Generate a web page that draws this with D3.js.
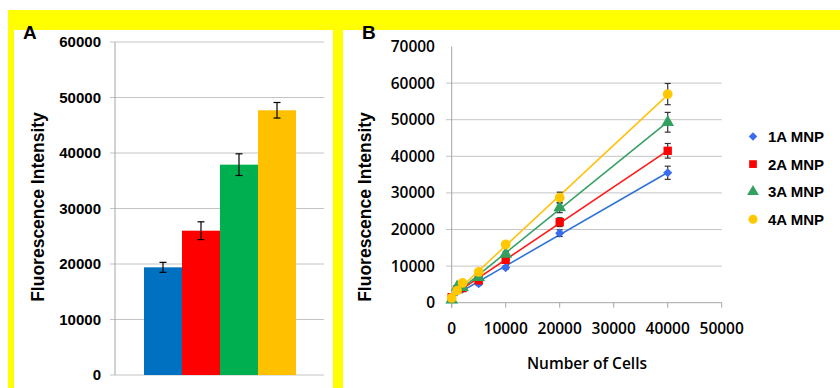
<!DOCTYPE html>
<html>
<head>
<meta charset="utf-8">
<script src="https://cdn.jsdelivr.net/npm/d3@7"></script>
<style>
  body { margin: 0; background: #fff; }
  svg { display: block; }
</style>
</head>
<body>
<svg id="chart"></svg>
<script>
// Panel A: bars
const barNames = ["1A MNP", "2A MNP", "3A MNP", "4A MNP"];
const barValues = [19400, 26000, 37900, 47700];
const barErrors = [900, 1600, 1950, 1400];
const barColors = ["#0070C0", "#FF0000", "#00B050", "#FFC000"];
const barTicks = [0, 10000, 20000, 30000, 40000, 50000, 60000];

// Panel B: cells vs intensity
const cellCounts = [0, 1000, 2000, 5000, 10000, 20000, 40000];
const mnp1A = [1200, 3000, 3700, 5200, 9600, 19000, 35500];
const mnp2A = [1500, 3600, 4000, 6100, 11700, 22000, 41500];
const mnp3A = [800, 4300, 4200, 6900, 13300, 26000, 49300];
const mnp4A = [1300, 3300, 5400, 8400, 15900, 28700, 57000];
const err1A = [200, 300, 300, 500, 500, 900, 1800];
const err2A = [200, 300, 300, 500, 600, 1200, 2000];
const err3A = [200, 300, 300, 500, 700, 1400, 2700];
const err4A = [200, 300, 300, 500, 800, 1500, 2900];
const xTicksB = [0, 10000, 20000, 30000, 40000, 50000];
const yTicksB = [0, 10000, 20000, 30000, 40000, 50000, 60000, 70000];

const width = 840;
const height = 388;

const svg = d3.select("#chart")
    .attr("width", width)
    .attr("height", height)
    .attr("viewBox", [0, 0, width, height]);

svg.append("rect").attr("width", width).attr("height", height).attr("fill", "#fff");

// yellow frame
const yellow = "#FFFF00";
svg.append("rect").attr("x", 8).attr("y", 10).attr("width", width - 8).attr("height", 20).attr("fill", yellow);
svg.append("rect").attr("x", 8).attr("y", 10).attr("width", 6).attr("height", height - 10).attr("fill", yellow);
svg.append("rect").attr("x", 333).attr("y", 10).attr("width", 10).attr("height", height - 10).attr("fill", yellow);

const gridColor = "#c4c4c4";
const axisColor = "#a6a6a6";

// ---------- Panel A ----------
const yA = d3.scaleLinear().domain([0, 60000]).range([375, 42]);
const xA = d3.scaleBand().domain(barNames).range([144, 296]).padding(0);

const gA = svg.append("g");

gA.selectAll(".gridA")
    .data(barTicks)
    .join("line")
    .attr("x1", 110).attr("x2", 324)
    .attr("y1", d => yA(d)).attr("y2", d => yA(d))
    .attr("stroke", gridColor).attr("stroke-width", 1);

gA.append("line")
    .attr("x1", 115).attr("x2", 115)
    .attr("y1", yA(60000)).attr("y2", yA(0))
    .attr("stroke", axisColor);

gA.selectAll(".tickA")
    .data(barTicks)
    .join("text")
    .attr("x", 101)
    .attr("y", d => yA(d))
    .attr("dy", "0.36em")
    .attr("text-anchor", "end")
    .style("font", "bold 15px 'Liberation Sans', Arial, sans-serif")
    .text(d => d);

gA.selectAll(".bar")
    .data(barValues)
    .join("rect")
    .attr("x", (d, i) => xA(barNames[i]))
    .attr("width", xA.bandwidth())
    .attr("y", d => yA(d))
    .attr("height", d => yA(0) - yA(d))
    .attr("fill", (d, i) => barColors[i]);

barValues.forEach((v, i) => {
    const cx = xA(barNames[i]) + xA.bandwidth() / 2;
    const e = barErrors[i];
    const eg = gA.append("g").attr("stroke", "#000").attr("stroke-width", 1.2);
    eg.append("line").attr("x1", cx).attr("x2", cx).attr("y1", yA(v + e)).attr("y2", yA(v - e));
    eg.append("line").attr("x1", cx - 3.5).attr("x2", cx + 3.5).attr("y1", yA(v + e)).attr("y2", yA(v + e));
    eg.append("line").attr("x1", cx - 3.5).attr("x2", cx + 3.5).attr("y1", yA(v - e)).attr("y2", yA(v - e));
});

gA.append("text")
    .attr("transform", `translate(44, 207) rotate(-90)`)
    .attr("text-anchor", "middle")
    .style("font", "bold 17.5px 'Liberation Sans', Arial, sans-serif")
    .text("Fluorescence Intensity");

svg.append("text")
    .attr("x", 23).attr("y", 38.5)
    .style("font", "bold 19px 'Liberation Sans', Arial, sans-serif")
    .text("A");

// ---------- Panel B ----------
const xB = d3.scaleLinear().domain([0, 50000]).range([451.7, 721.7]);
const yB = d3.scaleLinear().domain([0, 70000]).range([302.7, 46.5]);

const gB = svg.append("g");

gB.selectAll(".gridB")
    .data(yTicksB.filter(d => d > 0 && d < 70000))
    .join("line")
    .attr("x1", 446).attr("x2", 721.7)
    .attr("y1", d => yB(d)).attr("y2", d => yB(d))
    .attr("stroke", gridColor);

gB.append("line")
    .attr("x1", 446).attr("x2", 721.7)
    .attr("y1", yB(0)).attr("y2", yB(0))
    .attr("stroke", axisColor);
gB.append("line")
    .attr("x1", xB(0)).attr("x2", xB(0))
    .attr("y1", yB(70000)).attr("y2", yB(0) + 5)
    .attr("stroke", axisColor);
gB.selectAll(".xtickmark")
    .data(xTicksB)
    .join("line")
    .attr("x1", d => xB(d)).attr("x2", d => xB(d))
    .attr("y1", yB(0)).attr("y2", yB(0) + 5)
    .attr("stroke", axisColor);

gB.selectAll(".ytickB")
    .data(yTicksB)
    .join("text")
    .attr("x", 435)
    .attr("y", d => yB(d))
    .attr("dy", "0.36em")
    .attr("text-anchor", "end")
    .style("font", "600 15.5px 'Open Sans', sans-serif")
    .text(d => d);

gB.selectAll(".xtickB")
    .data(xTicksB)
    .join("text")
    .attr("x", d => xB(d))
    .attr("y", 328)
    .attr("dy", "0.36em")
    .attr("text-anchor", "middle")
    .style("font", "600 15.5px 'Open Sans', sans-serif")
    .text(d => d);

gB.append("text")
    .attr("x", 587).attr("y", 363)
    .attr("dy", "0.36em")
    .attr("text-anchor", "middle")
    .style("font", "600 15.5px 'Open Sans', sans-serif")
    .text("Number of Cells");

gB.append("text")
    .attr("transform", `translate(371, 207) rotate(-90)`)
    .attr("text-anchor", "middle")
    .style("font", "bold 17.5px 'Liberation Sans', Arial, sans-serif")
    .text("Fluorescence Intensity");

svg.append("text")
    .attr("x", 362).attr("y", 38.5)
    .style("font", "bold 19px 'Liberation Sans', Arial, sans-serif")
    .text("B");

const series = [
    { name: "1A MNP", values: mnp1A, errors: err1A, line: "#2f74d6", fill: "#3a6cf2", symbol: d3.symbolSquare, size: 42, rotate: 45 },
    { name: "2A MNP", values: mnp2A, errors: err2A, line: "#ff1a1a", fill: "#ff0000", symbol: d3.symbolSquare, size: 70, rotate: 0 },
    { name: "3A MNP", values: mnp3A, errors: err3A, line: "#36a065", fill: "#33a060", symbol: d3.symbolTriangle, size: 70, rotate: 0 },
    { name: "4A MNP", values: mnp4A, errors: err4A, line: "#ffc20e", fill: "#ffc800", symbol: d3.symbolCircle, size: 75, rotate: 0 }
];

// linear trendline from least squares
function fit(xs, ys) {
    const mx = d3.mean(xs), my = d3.mean(ys);
    const sxy = d3.sum(xs, (x, i) => (x - mx) * (ys[i] - my));
    const sxx = d3.sum(xs, x => (x - mx) * (x - mx));
    const slope = sxy / sxx;
    return { slope, intercept: my - slope * mx };
}

series.forEach(s => {
    const f = fit(cellCounts, s.values);
    const x0 = d3.min(cellCounts), x1 = d3.max(cellCounts);
    gB.append("line")
        .attr("x1", xB(x0)).attr("y1", yB(f.intercept + f.slope * x0))
        .attr("x2", xB(x1)).attr("y2", yB(f.intercept + f.slope * x1))
        .attr("stroke", s.line).attr("stroke-width", 1.6);
});

series.forEach(s => {
    const eg = gB.append("g").attr("stroke", "#333").attr("stroke-width", 1.2);
    s.values.forEach((v, i) => {
        const cx = xB(cellCounts[i]);
        const e = s.errors[i];
        eg.append("line").attr("x1", cx).attr("x2", cx).attr("y1", yB(v + e)).attr("y2", yB(v - e));
        eg.append("line").attr("x1", cx - 3).attr("x2", cx + 3).attr("y1", yB(v + e)).attr("y2", yB(v + e));
        eg.append("line").attr("x1", cx - 3).attr("x2", cx + 3).attr("y1", yB(v - e)).attr("y2", yB(v - e));
    });
});

series.forEach(s => {
    gB.selectAll(null)
        .data(s.values)
        .join("path")
        .attr("transform", (d, i) => `translate(${xB(cellCounts[i])},${yB(d)}) rotate(${s.rotate})`)
        .attr("d", d3.symbol(s.symbol, s.size))
        .attr("fill", s.fill);
});

// legend
const legend = svg.append("g");
series.forEach((s, i) => {
    const y = 136.5 + i * 27.6;
    legend.append("path")
        .attr("transform", `translate(753,${y}) rotate(${s.rotate})`)
        .attr("d", d3.symbol(s.symbol, s.size * 0.85))
        .attr("fill", s.fill);
    legend.append("text")
        .attr("x", 768).attr("y", y)
        .attr("dy", "0.36em")
        .style("font", "bold 15px 'Liberation Sans', Arial, sans-serif")
        .text(s.name);
});
</script>
</body>
</html>
